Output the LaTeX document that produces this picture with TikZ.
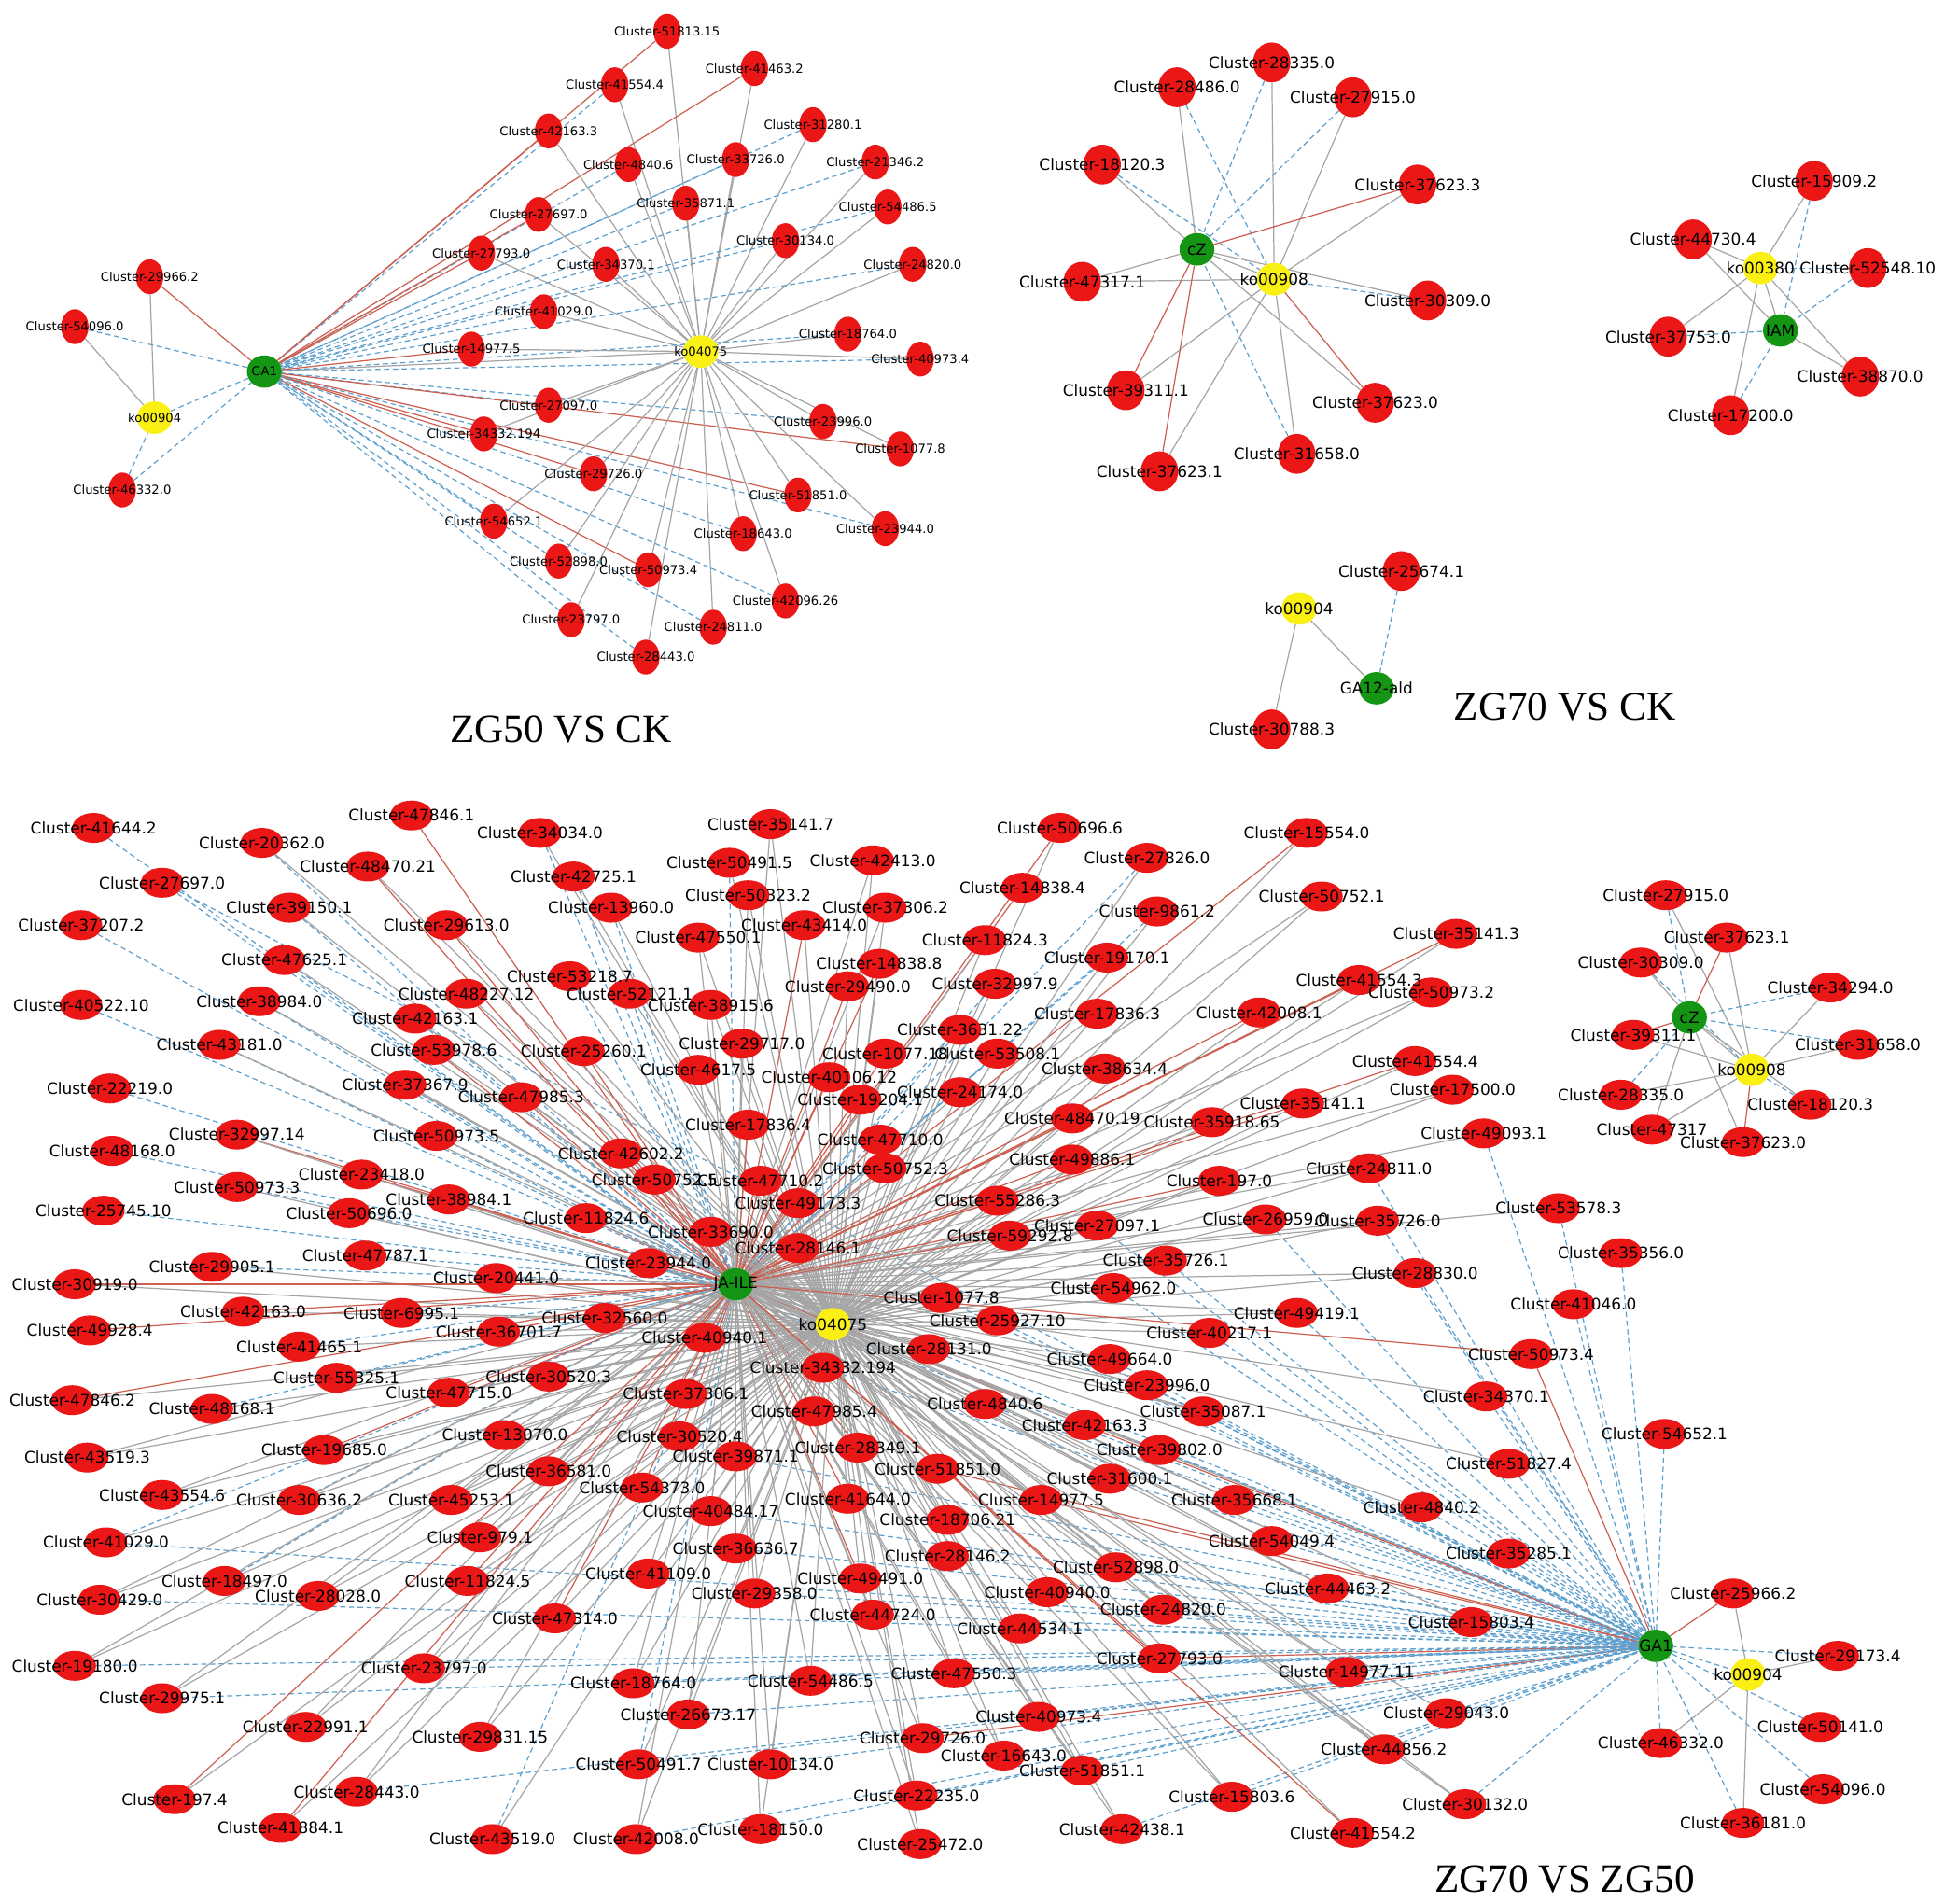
\documentclass[tikz,border=0pt]{standalone}
\usepackage{fontspec}
\setmainfont{DejaVu Sans}
\newfontfamily\ttlfont{Liberation Serif}
\usetikzlibrary{shapes.geometric}
\pgfdeclarelayer{bg}\pgfdeclarelayer{fg}\pgfsetlayers{bg,main,fg}
\definecolor{nred}{RGB}{235,22,22}
\definecolor{hgreen}{RGB}{20,150,20}
\definecolor{hyel}{RGB}{250,240,20}
\definecolor{lred}{RGB}{205,95,80}
\definecolor{lblue}{RGB}{95,160,205}
\definecolor{lgray}{RGB}{165,165,165}
\tikzset{
 eg/.style={draw=lgray,line width=1.3pt},
 er/.style={draw=lred,line width=1.3pt},
 ed/.style={draw=lblue,line width=1.3pt,dash pattern=on 6pt off 4pt},
 bn/.style={ellipse,fill=nred,minimum width=1.7cm,minimum height=1.2cm,inner sep=0pt},
 tn/.style={ellipse,fill=nred,minimum width=1.1cm,minimum height=1.4cm,inner sep=0pt},
 rn/.style={ellipse,fill=nred,minimum width=1.5cm,minimum height=1.6cm,inner sep=0pt},
 gh/.style={ellipse,fill=hgreen,minimum width=1.4cm,minimum height=1.3cm,inner sep=0pt},
 yh/.style={ellipse,fill=hyel,minimum width=1.4cm,minimum height=1.3cm,inner sep=0pt},
 bl/.style={font=\fontsize{18}{18}\selectfont,inner sep=0pt},
 tl/.style={font=\fontsize{14}{14}\selectfont,inner sep=0pt},
 rl/.style={font=\fontsize{18}{18}\selectfont,inner sep=0pt},
 ttl/.style={font=\ttlfont\fontsize{46}{46}\selectfont}
}
\newcommand\lnk[3]{\ifcase#1\or\draw[eg](#2)--(#3);\or\draw[er](#2)--(#3);\or\draw[ed](#2)--(#3);\fi}
\def\TLlist{535/25/51813.15/2/1, 493/68/41554.4/1/1, 605/55/41463.2/2/1, 440/105/42163.3/2/1,
652/100/31280.1/1/1, 504/132/4840.6/1/1, 590/128/33726.0/1/1, 702/130/21346.2/1/1,
550/163/35871.1/1/1, 712/166/54486.5/1/1, 432/172/27697.0/2/1, 630/193/30134.0/1/1,
386/203/27793.0/2/1, 486/212/34370.1/1/1, 732/212/24820.0/1/1, 436/250/41029.0/1/1,
680/268/18764.0/1/1, 378/280/14977.5/2/1, 738/288/40973.4/1/1, 440/325/27097.0/1/1,
660/338/23996.0/1/1, 388/348/34332.194/2/1, 722/360/1077.8/2/1, 476/380/29726.0/2/1,
640/397/51851.0/2/1, 396/418/54652.1/1/1, 596/428/18643.0/1/1, 710/424/23944.0/1/1,
448/450/52898.0/1/1, 520/457/50973.4/2/1, 630/482/42096.26/1/1, 458/497/23797.0/1/1,
572/503/24811.0/1/1, 518/527/28443.0/1/1}
\def\Plist{1020/50/28335.0/3/1, 944/70/28486.0/1/3, 1085/78/27915.0/3/1, 884/132/18120.3/1/3,
1137/148/37623.3/2/1, 868/226/47317.1/1/1, 1145/241/30309.0/1/3, 903/313/39311.1/2/1,
1103/323/37623.0/1/2, 1040/364/31658.0/3/1, 930/378/37623.1/2/1}
\def\Qlist{1455/145/15909.2/1/3, 1358/192/44730.4/1/1, 1498/215/52548.10/3/3,
1338/270/37753.0/1/3, 1492/302/38870.0/1/1, 1388/333/17200.0/1/3}
\def\Ulist{1336/718/27915.0/3/1, 1385/752/37623.1/2/1, 1316/772/30309.0/1/3, 1468/792/34294.0/3/1,
1310/830/39311.1/2/1, 1490/838/31658.0/3/1, 1300/878/28335.0/3/1, 1452/886/18120.3/1/3,
1325/906/47317/1/1, 1398/916/37623.0/1/2}
\def\Vlist{1390/1278/25966.2/2/1, 1474/1328/29173.4/3/1, 1332/1398/46332.0/3/1,
1460/1385/50141.0/3/0, 1462/1435/54096.0/3/0, 1398/1462/36181.0/3/1}
\def\Blist{75/664/41644.2/3/0/0, 210/676/20362.0/3/1/0, 330/654/47846.1/2/0/0, 433/668/34034.0/3/1/0,
618/661/35141.7/1/1/0, 850/664/50696.6/2/1/0, 920/688/27826.0/3/1/0, 1048/668/15554.0/2/1/0,
130/708/27697.0/3/0/1, 295/695/48470.21/2/1/0, 585/692/50491.5/3/1/0, 700/690/42413.0/1/1/0,
460/703/42725.1/3/1/0, 600/718/50323.2/1/1/0, 820/712/14838.4/2/0/0, 1060/719/50752.1/1/1/0,
65/742/37207.2/3/0/0, 232/728/39150.1/3/1/0, 358/742/29613.0/2/1/0, 490/728/13960.0/3/1/0,
710/728/37306.2/1/1/0, 928/731/9861.2/3/1/0, 1168/749/35141.3/2/1/0, 560/752/47550.1/1/1/0,
645/742/43414.0/2/1/0, 790/754/11824.3/1/1/0, 228/770/47625.1/3/1/0, 888/768/19170.1/3/1/0,
65/806/40522.10/3/0/0, 208/803/38984.0/3/1/0, 457/783/53218.7/3/1/0, 374/797/48227.12/2/1/0,
505/797/52121.1/3/1/0, 570/806/38915.6/1/1/0, 705/773/14838.8/2/1/0, 680/791/29490.0/2/1/0,
798/789/32997.9/3/1/0, 1090/786/41554.3/2/1/0, 1148/796/50973.2/1/1/0, 176/838/43181.0/3/1/0,
333/817/42163.1/3/1/0, 348/842/53978.6/2/1/0, 468/843/25260.1/2/1/0, 595/837/29717.0/1/1/0,
710/845/1077.18/2/1/0, 770/826/3631.22/3/1/0, 800/845/53508.1/3/1/0, 880/813/17836.3/1/1/0,
1010/812/42008.1/2/1/0, 560/858/4617.5/1/1/0, 665/864/40106.12/2/1/0, 886/857/38634.4/1/1/0,
1135/851/41554.4/2/1/0, 88/873/22219.0/3/0/0, 325/870/37367.9/3/1/0, 418/880/47985.3/2/1/0,
690/882/19204.1/2/1/0, 770/876/24174.0/1/1/0, 1165/874/17500.0/1/1/0, 1045/885/35141.1/2/1/0,
90/923/48168.0/3/0/0, 190/910/32997.14/2/1/0, 350/911/50973.5/3/1/0, 600/902/17836.4/2/1/0,
706/914/47710.0/2/1/0, 860/897/48470.19/2/1/0, 972/900/35918.65/1/1/0, 1190/909/49093.1/1/0/1,
190/952/50973.3/3/1/0, 290/942/23418.0/2/1/0, 498/925/42602.2/2/1/0, 710/937/50752.3/1/1/0,
860/930/49886.1/2/1/0, 1098/937/24811.0/1/1/1, 83/971/25745.10/3/0/0, 280/973/50696.0/3/1/0,
360/962/38984.1/2/1/0, 525/946/50752.5/2/1/0, 610/947/47710.2/2/1/0, 640/965/49173.3/1/1/0,
978/947/197.0/2/1/0, 800/963/55286.3/2/1/0, 1015/978/26959.0/1/1/1, 1105/979/35726.0/1/1/1,
1250/969/53578.3/1/0/1, 170/1016/29905.1/3/1/0, 293/1007/47787.1/3/1/0, 470/977/11824.6/2/1/0,
570/988/33690.0/2/1/0, 640/1001/28146.1/2/1/0, 810/991/59292.8/2/1/0, 880/983/27097.1/1/1/1,
935/1011/35726.1/1/1/1, 1300/1005/35356.0/0/0/1, 60/1030/30919.0/2/1/0, 398/1025/20441.0/1/1/0,
520/1013/23944.0/2/1/1, 1135/1021/28830.0/1/1/1, 195/1052/42163.0/2/1/0, 322/1053/6995.1/3/1/0,
485/1057/32560.0/1/1/0, 755/1041/1077.8/1/1/1, 893/1033/54962.0/1/1/1, 1040/1053/49419.1/1/1/1,
1262/1046/41046.0/0/0/1, 72/1067/49928.4/2/0/0, 400/1068/36701.7/2/1/0, 800/1059/25927.10/1/1/1,
970/1069/40217.1/1/1/1, 240/1080/41465.1/3/1/0, 565/1073/40940.1/1/1/0, 745/1082/28131.0/1/1/1,
890/1090/49664.0/1/1/1, 1228/1086/50973.4/2/0/2, 270/1105/55325.1/3/1/0, 440/1104/30520.3/1/1/0,
660/1097/34332.194/1/1/1, 550/1118/37306.1/1/1/0, 920/1111/23996.0/1/1/1, 1192/1120/34370.1/1/0/1,
58/1123/47846.2/2/1/0, 360/1117/47715.0/2/1/0, 170/1130/48168.1/3/1/0, 790/1126/4840.6/1/1/1,
870/1143/42163.3/2/1/2, 965/1132/35087.1/1/1/1, 1335/1150/54652.1/0/0/1, 70/1169/43519.3/1/1/0,
405/1151/13070.0/1/1/0, 545/1152/30520.4/2/1/0, 653/1132/47985.4/1/1/0, 688/1161/28349.1/2/1/0,
590/1168/39871.1/1/1/1, 930/1163/39802.0/1/1/1, 1210/1174/51827.4/1/0/1, 260/1163/19685.0/2/1/0,
440/1180/36581.0/1/1/0, 752/1178/51851.0/1/1/2, 890/1186/31600.1/1/1/1, 130/1199/43554.6/1/1/0,
240/1203/30636.2/3/1/0, 515/1193/54373.0/2/1/0, 362/1203/45253.1/1/1/0, 835/1203/14977.5/1/1/2,
990/1203/35668.1/1/1/1, 1140/1209/4840.2/1/0/1, 680/1202/41644.0/2/1/0, 570/1212/40484.17/1/1/1,
760/1219/18706.21/1/1/1, 85/1237/41029.0/3/1/1, 385/1233/979.1/1/1/0, 590/1242/36636.7/1/1/1,
1210/1246/35285.1/0/0/1, 1020/1236/54049.4/1/1/1, 760/1248/28146.2/1/1/1, 180/1268/18497.0/3/1/0,
255/1280/28028.0/1/1/0, 375/1268/11824.5/2/1/0, 520/1262/41109.0/1/1/0, 605/1278/29358.0/1/1/1,
690/1266/49491.0/2/1/0, 895/1257/52898.0/1/1/1, 1065/1274/44463.2/1/1/1, 80/1283/30429.0/1/1/1,
840/1277/40940.0/1/1/1, 933/1291/24820.0/1/1/1, 445/1298/47314.0/2/1/0, 700/1295/44724.0/1/1/1,
1180/1301/15803.4/1/0/1, 818/1306/44534.1/1/1/1, 60/1336/19180.0/1/1/1, 930/1330/27793.0/2/1/2,
340/1338/23797.0/1/1/1, 1080/1341/14977.11/1/1/1, 508/1350/18764.0/1/1/1, 650/1348/54486.5/1/1/1,
765/1342/47550.3/1/1/1, 130/1362/29975.1/1/1/1, 552/1375/26673.17/1/1/1, 833/1377/40973.4/1/1/1,
1160/1374/29043.0/1/0/1, 245/1385/22991.1/1/1/0, 385/1393/29831.15/1/1/0, 740/1394/29726.0/1/1/2,
1110/1403/44856.2/1/1/1, 512/1415/50491.7/3/1/1, 618/1415/10134.0/1/1/1, 805/1408/16643.0/1/1/1,
140/1443/197.4/2/1/0, 286/1437/28443.0/1/1/1, 735/1440/22235.0/1/1/1, 868/1420/51851.1/1/1/1,
1175/1447/30132.0/1/1/1, 988/1441/15803.6/1/1/1, 225/1466/41884.1/2/1/0, 395/1475/43519.0/3/1/0,
510/1475/42008.0/1/1/1, 610/1467/18150.0/1/1/1, 738/1479/25472.0/1/1/0, 900/1467/42438.1/1/1/1,
1085/1470/41554.2/2/1/0}
\begin{document}
\begin{tikzpicture}[x=0.05cm,y=-0.05cm]
\useasboundingbox (0,0) rectangle (1560,1527);
\begin{pgfonlayer}{bg}\fill[white] (0,0) rectangle (1560,1527);\end{pgfonlayer}
\node[gh] (ga1) at (212,298) {};
\node[yh] (k75) at (562,282) {};
\node[yh] (k904) at (124,335) {};
\node[tn] (a1) at (120,222) {};\node[tn] (a2) at (60,262) {};\node[tn] (a3) at (98,393) {};
\node[gh] (cz) at (960,200) {};
\node[yh] (k908) at (1022,224) {};
\node[yh] (k380) at (1412,215) {};
\node[gh] (iam) at (1428,265) {};
\node[yh] (k904b) at (1042,488) {};
\node[gh] (ga12) at (1104,552) {};
\node[rn] (s1) at (1124,458) {};
\node[rn] (s2) at (1020,585) {};
\node[gh] (cz2) at (1355,816) {};
\node[yh] (k908b) at (1405,858) {};
\node[gh] (ja) at (590,1030) {};
\node[yh] (ko) at (668,1062) {};
\node[gh] (ga) at (1328,1320) {};
\node[yh] (k904c) at (1402,1343) {};
\foreach \x/\y/\lab/\gt/\kt [count=\n] in \TLlist {\node[tn] (t\n) at (\x,\y) {};}
\foreach \x/\y/\lab/\ct/\ot [count=\n] in \Plist {\node[rn] (p\n) at (\x,\y) {};}
\foreach \x/\y/\lab/\ct/\ot [count=\n] in \Qlist {\node[rn] (q\n) at (\x,\y) {};}
\foreach \x/\y/\lab/\ct/\ot [count=\n] in \Ulist {\node[bn] (u\n) at (\x,\y) {};}
\foreach \x/\y/\lab/\ct/\ot [count=\n] in \Vlist {\node[bn] (v\n) at (\x,\y) {};}
\foreach \x/\y/\lab/\jt/\kt/\gt [count=\n] in \Blist {\node[bn] (b\n) at (\x,\y) {};}
\begin{pgfonlayer}{bg}
\draw[er](a1)--(ga1);\draw[eg](a1)--(k904);\draw[eg](a2)--(k904);\draw[ed](a2)--(ga1);
\draw[ed](a3)--(k904);\draw[ed](a3)--(ga1);\draw[ed](k904)--(ga1);\draw[eg](ga1)--(k75);
\foreach \x/\y/\lab/\gt/\kt [count=\n] in \TLlist {
 \ifcase\gt\or\draw[ed](t\n)--(ga1);\or\draw[er](t\n)--(ga1);\fi
 \ifnum\kt=1 \draw[eg](t\n)--(k75);\fi}
\draw[eg](cz)--(k908);
\foreach \x/\y/\lab/\ct/\ot [count=\n] in \Plist {\lnk{\ct}{p\n}{cz}\lnk{\ot}{p\n}{k908}}
\draw[eg](k380)--(iam);
\foreach \x/\y/\lab/\ct/\ot [count=\n] in \Qlist {\lnk{\ct}{q\n}{k380}\lnk{\ot}{q\n}{iam}}
\draw[eg](k904b)--(ga12);\draw[ed](s1)--(ga12);\draw[eg](s2)--(k904b);
\draw[eg](cz2)--(k908b);
\foreach \x/\y/\lab/\ct/\ot [count=\n] in \Ulist {\lnk{\ct}{u\n}{cz2}\lnk{\ot}{u\n}{k908b}}
\draw[eg](ja)--(ko);\draw[ed](ja)--(ga);\draw[eg](ko)--(ga);\draw[ed](ga)--(k904c);
\foreach \x/\y/\lab/\ct/\ot [count=\n] in \Vlist {\lnk{\ct}{v\n}{ga}\lnk{\ot}{v\n}{k904c}}
\foreach \x/\y/\lab/\jt/\kt/\gt [count=\n] in \Blist {
 \lnk{\jt}{b\n}{ja}
 \ifnum\kt=1 \draw[eg](b\n)--(ko);\fi
 \ifcase\gt\or\draw[ed](b\n)--(ga);\or\draw[er](b\n)--(ga);\fi}
\end{pgfonlayer}
\begin{pgfonlayer}{fg}
\node[tl] at (ga1) {GA1};\node[tl] at (k75) {ko04075};\node[tl] at (k904) {ko00904};
\node[tl] at (a1) {Cluster-29966.2};\node[tl] at (a2) {Cluster-54096.0};\node[tl] at (a3) {Cluster-46332.0};
\foreach \x/\y/\lab/\gt/\kt [count=\n] in \TLlist {\node[tl] at (t\n) {Cluster-\lab};}
\node[rl] at (cz) {cZ};\node[rl] at (k908) {ko00908};
\foreach \x/\y/\lab/\ct/\ot [count=\n] in \Plist {\node[rl] at (p\n) {Cluster-\lab};}
\node[rl] at (k380) {ko00380};\node[rl] at (iam) {IAM};
\foreach \x/\y/\lab/\ct/\ot [count=\n] in \Qlist {\node[rl] at (q\n) {Cluster-\lab};}
\node[rl] at (k904b) {ko00904};\node[rl] at (ga12) {GA12-ald};
\node[rl] at (s1) {Cluster-25674.1};\node[rl] at (s2) {Cluster-30788.3};
\node[bl] at (cz2) {cZ};\node[bl] at (k908b) {ko00908};
\foreach \x/\y/\lab/\ct/\ot [count=\n] in \Ulist {\node[bl] at (u\n) {Cluster-\lab};}
\node[bl] at (ja) {JA-ILE};\node[bl] at (ko) {ko04075};\node[bl] at (ga) {GA1};\node[bl] at (k904c) {ko00904};
\foreach \x/\y/\lab/\ct/\ot [count=\n] in \Vlist {\node[bl] at (v\n) {Cluster-\lab};}
\foreach \x/\y/\lab/\jt/\kt/\gt [count=\n] in \Blist {\node[bl] at (b\n) {Cluster-\lab};}
\end{pgfonlayer}
\node[ttl] (tt1) at (450,585) {ZG50 VS CK};
\node[ttl] (tt2) at (1255,567) {ZG70 VS CK};
\node[ttl] (tt3) at (1255,1507) {ZG70 VS ZG50};
\end{tikzpicture}
\end{document}
